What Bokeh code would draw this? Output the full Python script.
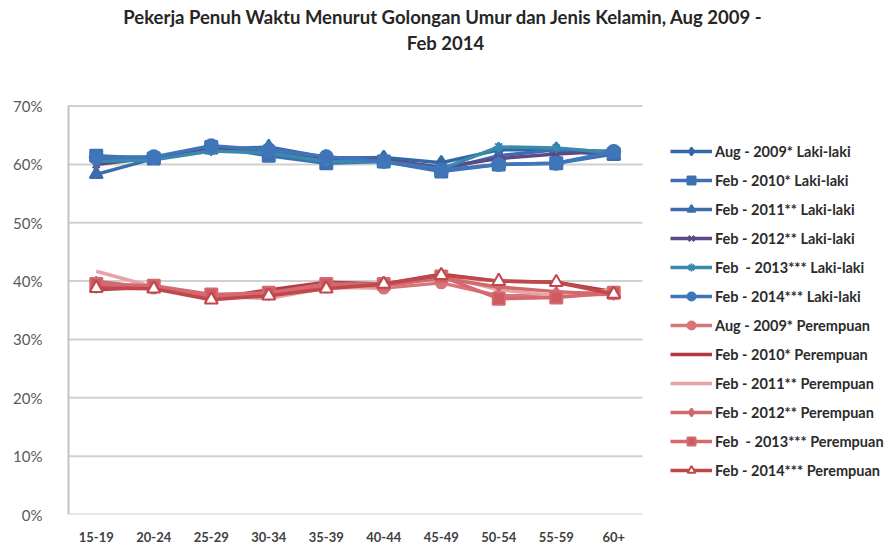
from bokeh.plotting import figure
from bokeh.models import (Range1d, FixedTicker, PrintfTickFormatter, CustomJSTickFormatter,
                          Legend, LegendItem, Label, ColumnDataSource)
from bokeh.embed import file_html
from bokeh.resources import INLINE

categories = ["15-19", "20-24", "25-29", "30-34", "35-39",
              "40-44", "45-49", "50-54", "55-59", "60+"]

laki_aug2009 = [61.0, 61.2, 62.8, 62.0, 61.0, 61.2, 60.3, 62.5, 62.5, 62.2]
laki_feb2010 = [61.5, 61.0, 63.0, 61.5, 60.2, 60.5, 58.8, 60.0, 60.2, 61.8]
laki_feb2011 = [58.3, 61.0, 62.5, 63.0, 61.2, 61.0, 59.0, 61.5, 62.5, 61.5]
laki_feb2012 = [60.0, 61.2, 62.8, 62.5, 60.8, 60.8, 59.5, 61.0, 61.8, 62.3]
laki_feb2013 = [60.5, 60.8, 62.3, 62.0, 60.5, 60.5, 59.2, 63.0, 62.8, 62.0]
laki_feb2014 = [61.2, 61.3, 63.2, 62.5, 61.3, 60.5, 59.0, 60.0, 60.2, 62.2]

prp_aug2009 = [39.0, 38.8, 37.2, 38.0, 39.0, 38.8, 39.7, 37.5, 37.5, 37.8]
prp_feb2010 = [38.5, 39.0, 37.0, 38.5, 39.8, 39.5, 41.2, 40.0, 39.8, 38.2]
prp_feb2011 = [41.7, 39.0, 37.5, 37.0, 38.8, 39.0, 41.0, 38.5, 37.5, 38.5]
prp_feb2012 = [40.0, 38.8, 37.2, 37.5, 39.2, 39.2, 40.5, 39.0, 38.2, 37.7]
prp_feb2013 = [39.5, 39.2, 37.7, 38.0, 39.5, 39.5, 40.8, 37.0, 37.2, 38.0]
prp_feb2014 = [38.8, 38.7, 36.8, 37.5, 38.7, 39.5, 41.0, 40.0, 39.8, 37.8]

y_ticks = [0, 10, 20, 30, 40, 50, 60, 70]

title_line1 = "Pekerja Penuh Waktu  Menurut Golongan Umur dan Jenis Kelamin, Aug 2009 -"
title_line2 = "Feb 2014"

series = [
    ("Aug - 2009* Laki-laki", laki_aug2009, "#3467A8", "diamond", "#3467A8", 14),
    ("Feb - 2010* Laki-laki", laki_feb2010, "#3C70B3", "square", "#3C70B3", 12),
    ("Feb - 2011** Laki-laki", laki_feb2011, "#3B6DAE", "triangle", "#3B6DAE", 13),
    ("Feb - 2012** Laki-laki", laki_feb2012, "#5C4A86", "x", "#5C4A86", 10),
    ("Feb  - 2013*** Laki-laki", laki_feb2013, "#3A8AAE", "asterisk", "#3A8AAE", 10),
    ("Feb - 2014*** Laki-laki", laki_feb2014, "#3F76BA", "circle", "#3F76BA", 13),
    ("Aug - 2009* Perempuan", prp_aug2009, "#D7767A", "circle", "#D7767A", 11),
    ("Feb - 2010* Perempuan", prp_feb2010, "#B23A40", None, None, 0),
    ("Feb - 2011** Perempuan", prp_feb2011, "#E8A3A5", None, None, 0),
    ("Feb - 2012** Perempuan", prp_feb2012, "#D0686C", "diamond", "#D0686C", 9),
    ("Feb  - 2013*** Perempuan", prp_feb2013, "#D36A70", "square", "#CC5A60", 12),
    ("Feb - 2014*** Perempuan", prp_feb2014, "#C0474C", "triangle", "white", 13),
]

# layout (pixels)
W, H = 888, 544
LEFT, BOTTOM = 67, 28
PLOT_W, PLOT_H = 575, 410          # area covered by the categories / 0-70 %
frame_w, frame_h = W - LEFT, H - BOTTOM
n = len(categories)
x_pos = [i + 0.5 for i in range(n)]

p = figure(x_range=Range1d(0, n * frame_w / PLOT_W),
           y_range=Range1d(0, y_ticks[-1] * frame_h / PLOT_H),
           width=W, height=H, output_backend="svg", toolbar_location=None,
           min_border_left=LEFT, min_border_right=0, min_border_top=0,
           min_border_bottom=BOTTOM)
p.outline_line_color = None
p.background_fill_color = "white"
p.border_fill_color = "white"
p.xgrid.visible = False
p.ygrid.visible = False

# gridlines (0-70 %) limited to the plot area
p.segment(x0=[0] * len(y_ticks), x1=[n] * len(y_ticks), y0=y_ticks, y1=y_ticks,
          line_color="#D0D0D0", line_width=2)
# value axis line
p.segment(x0=[0], x1=[0], y0=[0], y1=[y_ticks[-1]], line_color="#C4C4C4", line_width=4)

p.yaxis.ticker = FixedTicker(ticks=y_ticks)
p.yaxis.formatter = PrintfTickFormatter(format="%d%%")
p.yaxis.axis_line_color = None
p.yaxis.major_tick_line_color = None
p.yaxis.minor_tick_line_color = None
p.yaxis.major_label_standoff = 19
p.yaxis.major_label_text_font = "Lato"
p.yaxis.major_label_text_font_size = "15px"
p.yaxis.major_label_text_color = "#595959"

p.xaxis.ticker = FixedTicker(ticks=x_pos)
p.xaxis.formatter = CustomJSTickFormatter(args=dict(cats=categories),
                                          code="return cats[Math.round(tick - 0.5)] || ''")
p.xaxis.axis_line_color = None
p.xaxis.major_tick_line_color = None
p.xaxis.minor_tick_line_color = None
p.xaxis.major_label_standoff = 11
p.xaxis.major_label_text_font = "Lato"
p.xaxis.major_label_text_font_style = "bold"
p.xaxis.major_label_text_font_size = "13px"
p.xaxis.major_label_text_color = "#404040"

items = []
for label, vals, color, marker, fill, size in series:
    src = ColumnDataSource(dict(x=x_pos, y=vals))
    rs = [p.line("x", "y", source=src, line_color=color, line_width=3.5)]
    if marker is not None:
        rs.append(p.scatter("x", "y", source=src, marker=marker, size=size,
                            line_color=color, fill_color=fill, line_width=2))
    items.append(LegendItem(label=label, renderers=rs))

legend = Legend(items=items, location=(603, 34), margin=0, padding=0, spacing=9,
                glyph_height=20, label_height=20, glyph_width=42, label_standoff=3,
                border_line_alpha=0, background_fill_alpha=0,
                label_text_font="Lato", label_text_font_size="14.5px",
                label_text_font_style="bold", label_text_color="#2B2B2B")
p.add_layout(legend)

for txt, yy in [(title_line1, frame_h - 18), (title_line2, frame_h - 44)]:
    p.add_layout(Label(x=378, y=yy, x_units="screen", y_units="screen", text=txt,
                       text_align="center", text_baseline="middle",
                       text_font="Lato", text_font_style="bold",
                       text_font_size="18.5px", text_color="#262626"))

open("out.html", "w").write(file_html(p, INLINE))
